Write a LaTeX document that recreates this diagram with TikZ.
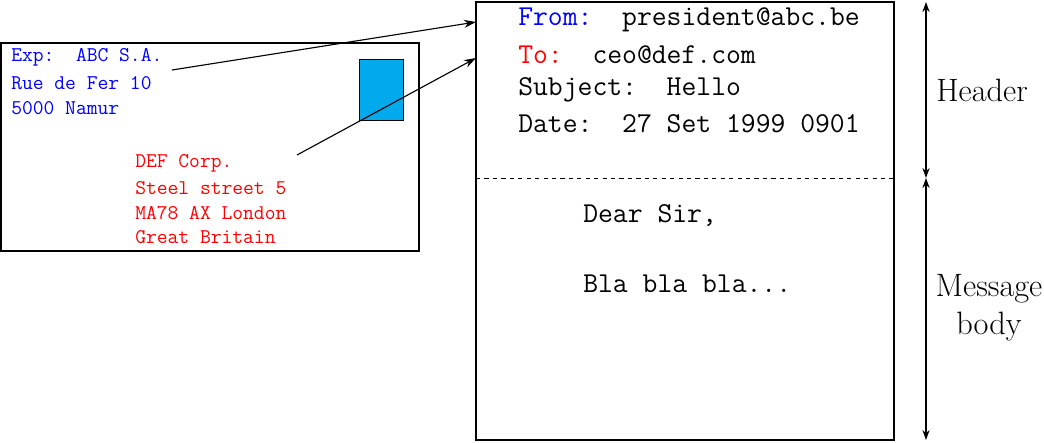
\documentclass[tikz,border=0pt]{standalone}
\usepackage{tikz}
\usetikzlibrary{arrows.meta}
\tikzset{
  envtext/.style={anchor=west, inner sep=0pt, font=\fontsize{14.9}{17}\selectfont\ttfamily},
  msgtext/.style={anchor=west, inner sep=0pt, font=\fontsize{20.5}{24}\selectfont\ttfamily},
  sidelabel/.style={align=center, inner sep=0pt, font=\fontsize{23}{27}\selectfont},
  pointer/.style={-{Stealth[length=3mm, width=2mm]}, thick}
}
\begin{document}
\begin{tikzpicture}[x=0.025cm, y=-0.025cm]
        \useasboundingbox (0,0) rectangle (1044,442);
        % Envelope
        \draw[thick] (1,43) rectangle (419,251);
        \draw[fill={rgb,255:red,0;green,170;blue,236}] (359,59) rectangle (403,120);
        \node[envtext, blue] (exp) at (11,57) {Exp:\ \ ABC S.A.};
        \node[envtext, blue] (street) at (11,83) {Rue de Fer 10};
        \node[envtext, blue] at (11,108) {5000 Namur};
        \node[envtext, red] (dest) at (135,163) {DEF Corp.};
        \node[envtext, red] at (135,188) {Steel street 5};
        \node[envtext, red] at (135,213) {MA78 AX London};
        \node[envtext, red] at (135,237) {Great Britain};
        % Message
        \draw[thick] (476,2) rectangle (894,440);
        \draw[dashed] (476,178) -- (894,178);
        \node[msgtext] (from) at (518,20) {\textcolor{blue}{From:}\ \ president@abc.be};
        \node[msgtext] (to) at (518,55) {\textcolor{red}{To:}\ \ ceo@def.com};
        \node[msgtext] at (518,90) {Subject:\ \ Hello};
        \node[msgtext] at (518,124) {Date:\ \ 27 Set 1999 0901};
        \node[msgtext] at (583,216) {Dear Sir,};
        \node[msgtext] at (583,284) {Bla bla bla...};
        % Pointers
        \coordinate (fromend) at (476,22);
        \coordinate (toend) at (476,58);
        \draw[pointer] (172,70) -- (fromend);
        \draw[pointer] (297,155) -- (toend);
        % Sizes
        \coordinate (top) at (926,2);
        \coordinate (mid) at (926,178);
        \coordinate (bot) at (926,440);
        \draw[{Stealth[length=2.5mm, width=1.8mm]}-{Stealth[length=2.5mm, width=1.8mm]}, thick] (top) -- (mid);
        \draw[{Stealth[length=2.5mm, width=1.8mm]}-{Stealth[length=2.5mm, width=1.8mm]}, thick] (mid) -- (bot);
        \node[sidelabel] (header) at (982,90) {Header};
        \node[sidelabel] (body) at (989,308) {Message\\body};
\end{tikzpicture}
\end{document}
